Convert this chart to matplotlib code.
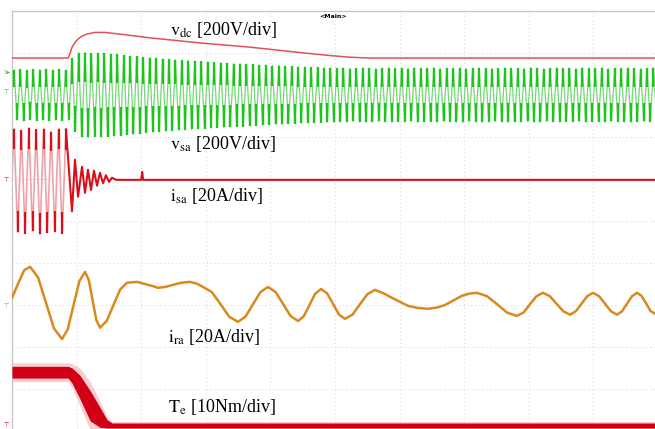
import numpy as np
import matplotlib
matplotlib.use("Agg")
import matplotlib.pyplot as plt

plt.rcParams["mathtext.fontset"] = "stix"
plt.rcParams["font.family"] = ["Liberation Serif", "DejaVu Sans"]

# ---- scope traces, in screen divisions -------------------------------
# time axis is in horizontal divisions, trace values in vertical divisions
# measured from each channel's reference level

# DC-link voltage, deviation from its pre-fault level
vdc_t = [0.0, 0.87, 0.90, 0.93, 0.98, 1.02, 1.08, 1.16, 1.28, 1.44,
         1.67, 2.14, 2.91, 3.68, 4.46, 4.92, 5.23, 5.54, 10.0]
vdc_v = [0.0, 0.0, 0.12, 0.26, 0.38, 0.45, 0.52, 0.57, 0.61, 0.61,
         0.57, 0.48, 0.36, 0.26, 0.13, 0.06, 0.02, 0.0, 0.0]

# stator voltage: amplitude of every cycle (cycle length 0.1 div)
vsa_amp = [0.60, 0.62, 0.59, 0.61, 0.60, 0.62, 0.60, 0.61, 0.60, 0.88,
           1.00, 1.01, 0.99, 1.00, 0.99, 0.98, 0.97, 0.95, 0.93, 0.92,
           0.90, 0.89, 0.88, 0.86, 0.85, 0.84, 0.83, 0.82, 0.81, 0.80,
           0.79, 0.78, 0.77, 0.76, 0.75, 0.75, 0.74, 0.73, 0.72, 0.71,
           0.70, 0.70, 0.69, 0.68, 0.67, 0.67, 0.66, 0.66, 0.65, 0.65,
           0.64, 0.65, 0.63, 0.64, 0.65, 0.64, 0.63, 0.64, 0.65, 0.64,
           0.64, 0.63, 0.65, 0.64, 0.64, 0.65, 0.63, 0.64, 0.64, 0.65,
           0.63, 0.64, 0.65, 0.64, 0.63, 0.64, 0.65, 0.64, 0.64, 0.63,
           0.65, 0.64, 0.63, 0.64, 0.65, 0.64, 0.64, 0.63, 0.65, 0.64,
           0.64, 0.65, 0.63, 0.64, 0.64, 0.65, 0.64, 0.63, 0.64, 0.65]

# stator current before the fault: successive extrema (0.0575 div apart)
isa_pre_v = [1.22, -1.25, 1.18, -1.28, 1.24, -1.22, 1.20, -1.30,
             1.22, -1.26, 1.15, -1.24, 1.22, -1.28, 1.20]
# stator current after the fault
isa_post_t = [0.835, 0.929, 0.975, 1.022, 1.084, 1.130, 1.176, 1.223, 1.269,
              1.316, 1.362, 1.409, 1.455, 1.502, 1.548, 1.61, 2.00, 2.015,
              2.03, 10.0]
isa_post_v = [1.20, -0.75, 0.48, -0.40, 0.31, -0.31, 0.24, -0.24, 0.22,
              -0.14, 0.17, -0.08, 0.11, -0.05, 0.05, 0.0, 0.0, 0.19,
              0.0, 0.0]

# rotor current
ira_t = [0.000, 0.100, 0.190, 0.279, 0.403, 0.527, 0.650, 0.774,
         0.863, 0.952, 1.041, 1.130, 1.188, 1.246, 1.304, 1.362,
         1.466, 1.571, 1.675, 1.780, 1.935, 2.105, 2.180, 2.260,
         2.370, 2.492, 2.620, 2.755, 2.860, 2.957, 3.092, 3.228,
         3.363, 3.498, 3.614, 3.731, 3.847, 3.963, 4.079, 4.195,
         4.311, 4.427, 4.516, 4.605, 4.694, 4.783, 4.876, 4.969,
         5.062, 5.155, 5.271, 5.387, 5.503, 5.619, 5.750, 5.882,
         6.130, 6.280, 6.440, 6.580, 6.703, 6.966, 7.080, 7.198,
         7.353, 7.508, 7.662, 7.817, 7.918, 8.019, 8.119, 8.220,
         8.325, 8.429, 8.534, 8.638, 8.727, 8.816, 8.905, 8.994,
         9.087, 9.180, 9.272, 9.365, 9.443, 9.520, 9.598, 9.675,
         9.745, 9.815, 9.884, 9.954]
ira_v = [0.19, 0.55, 0.85, 0.93, 0.68, 0.07, -0.54, -0.79,
         -0.56, 0.01, 0.58, 0.81, 0.62, 0.15, -0.33, -0.52,
         -0.36, 0.02, 0.39, 0.55, 0.57, 0.50, 0.47, 0.43,
         0.45, 0.50, 0.55, 0.57, 0.53, 0.45, 0.33, 0.04,
         -0.26, -0.38, -0.26, 0.04, 0.33, 0.45, 0.33, 0.05,
         -0.24, -0.36, -0.25, 0.02, 0.29, 0.40, 0.30, 0.05,
         -0.21, -0.31, -0.21, 0.04, 0.28, 0.38, 0.30, 0.19,
         0.00, -0.05, -0.07, -0.04, 0.02, 0.24, 0.29, 0.31,
         0.23, 0.04, -0.16, -0.24, -0.16, 0.04, 0.23, 0.31,
         0.23, 0.05, -0.13, -0.21, -0.13, 0.05, 0.23, 0.31,
         0.23, 0.05, -0.13, -0.21, -0.13, 0.05, 0.23, 0.31,
         0.24, 0.06, -0.12, -0.19]

# electromagnetic torque: mean level and half-width of the noise band
te_t = [0.0, 0.87, 0.93, 1.05, 1.21, 1.36, 1.47, 1.55, 10.0]
te_v = [1.35, 1.35, 1.27, 1.00, 0.55, 0.28, 0.12, 0.08, 0.08]
te_band = [0.14, 0.14, 0.18, 0.28, 0.36, 0.24, 0.10, 0.06, 0.06]

labels = [r"$\mathrm{v_{dc}}$ [200V/div]", r"$\mathrm{v_{sa}}$ [200V/div]",
          r"$\mathrm{i_{sa}}$ [20A/div]", r"$\mathrm{i_{ra}}$ [20A/div]",
          r"$\mathrm{T_{e}}$ [10Nm/div]"]

# ---- layout ------------------------------------------------------------
W, H = 655, 429
DIV_X, DIV_Y = 64.6, 42.0
VDC_POS, VSA_POS, ISA_POS, IRA_POS, TE_POS = 8.88, 8.0, 5.98, 2.98, 0.05

fig = plt.figure(figsize=(W / 100, H / 100), dpi=100)
ax = fig.add_axes([12 / W, 0, 643 / W, 418 / H])
ax.set_xlim(0, 643 / DIV_X)
ax.set_ylim(10 - 418 / DIV_Y, 10)
ax.set_xticks([])
ax.set_yticks([])
for side in ("right", "bottom"):
    ax.spines[side].set_visible(False)
for side in ("top", "left"):
    ax.spines[side].set_color("#c4c4c4")
    ax.spines[side].set_linewidth(0.9)

for k in range(1, 10):
    ax.axvline(k, color="#d4d4d4", lw=0.7, ls=(0, (1, 3)), zorder=0)
    ax.axhline(k, color="#d4d4d4", lw=0.7, ls=(0, (1, 3)), zorder=0)

# v_sa
amp = np.repeat(vsa_amp, 2)
sign = np.tile([1.0, -1.0], len(vsa_amp))
vsa_t = 0.03 + 0.05 * np.arange(len(amp))
vsa_v = amp * sign
ax.plot(np.r_[0.0, vsa_t], VSA_POS + np.r_[0.0, vsa_v],
        color="#74d874", lw=0.9, zorder=2)
ax.vlines(vsa_t, VSA_POS + 0.3 * vsa_v, VSA_POS + vsa_v,
          color="#1ec41e", lw=1.7, zorder=3)

# v_dc
ax.plot(vdc_t, VDC_POS + np.array(vdc_v), color="#e2505c", lw=1.1, zorder=4)

# i_sa
isa_pre_t = 0.03 + 0.0575 * np.arange(len(isa_pre_v))
isa_pre = np.array(isa_pre_v)
ax.plot(np.r_[0.0, isa_pre_t], ISA_POS + np.r_[0.0, isa_pre],
        color="#f1a2a8", lw=1.2, zorder=2)
ax.vlines(isa_pre_t, ISA_POS + 0.6 * isa_pre, ISA_POS + isa_pre,
          color="#d8101e", lw=1.6, zorder=3)
ax.plot(isa_post_t, ISA_POS + np.array(isa_post_v),
        color="#d8101e", lw=1.5, zorder=3)

# i_ra
ax.plot(ira_t, IRA_POS + np.array(ira_v), color="#d98a1e", lw=1.8,
        solid_joinstyle="round", zorder=3)

# T_e
te_mid = TE_POS + np.array(te_v)
te_hw = np.array(te_band)
ax.fill_between(te_t, te_mid - 1.6 * te_hw, te_mid + 1.6 * te_hw,
                color="#e04050", alpha=0.25, lw=0, zorder=2)
ax.fill_between(te_t, te_mid - te_hw, te_mid + te_hw,
                color="#d20016", lw=0, zorder=3)

# ---- text ----------------------------------------------------------------
label_xy = [(170, 35), (170, 149), (170, 201), (168, 342), (168, 412)]
for text, (x, y) in zip(labels, label_xy):
    fig.text(x / W, 1 - y / H, text, fontsize=13, va="baseline", ha="left")

fig.text(333 / W, 1 - 16 / H, "<Main>", fontsize=4.5, fontweight="bold",
         family="DejaVu Sans", ha="center", va="center")

marks = [(7, 72, "1\u25b8", "#1ec41e"), (6, 93, "\u22a4", "#1ec41e"),
         (6, 181, "\u22a4", "#d8101e"), (6, 307, "\u22a4", "#d98a1e"),
         (6, 426, "\u22a4", "#d20016")]
for x, y, s, c in marks:
    fig.text(x / W, 1 - y / H, s, fontsize=4.5, color=c, family="DejaVu Sans",
             ha="center", va="center")

fig.savefig("out.png", dpi=100)
